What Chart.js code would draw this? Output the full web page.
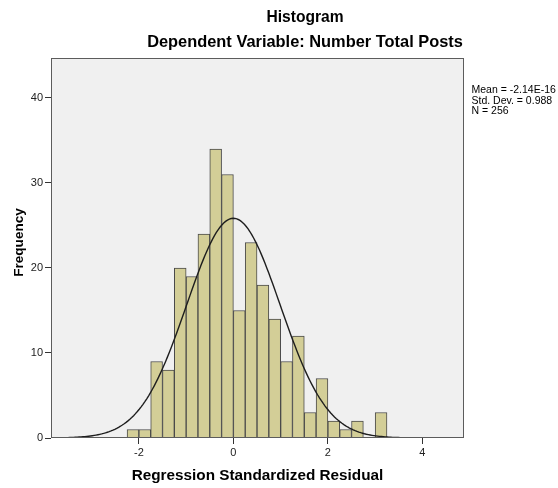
<!DOCTYPE html>
<html><head><meta charset="utf-8">
<script src="https://cdn.jsdelivr.net/npm/chart.js@4.4.0/dist/chart.umd.min.js"></script>
<style>html,body{margin:0;padding:0;background:#fff;}#wrap{position:relative;width:558px;height:488px;}</style>
</head><body><div id="wrap"><canvas id="c" width="558" height="488"></canvas></div>
<script>
// Histogram bins (centers) and frequencies
const binCenters = [-2.125,-1.875,-1.625,-1.375,-1.125,-0.875,-0.625,-0.375,-0.125,0.125,0.375,0.625,0.875,1.125,1.375,1.625,1.875,2.125,2.375,2.625,2.875,3.125];
const frequencies = [1,1,9,8,20,19,24,34,31,15,23,18,14,9,12,3,7,2,1,2,0,3];
const xTickValues = [-2,0,2,4];
const yTickValues = [0,10,20,30,40];
const titleText = 'Histogram';
const subtitleText = 'Dependent Variable: Number Total Posts';
const xTitleText = 'Regression Standardized Residual';
const yTitleText = 'Frequency';
const statLines = ['Mean = -2.14E-16','Std. Dev. = 0.988','N = 256'];
// Normal curve parameters (as stated in the chart)
const mean = -2.14e-16, stdDev = 0.988, nObs = 256, binWidth = 0.25;
const xMin = -3.86, xMax = 4.88, yMax = 44.7;

const barData = binCenters.map((x,i)=>({x:x, y:frequencies[i]}));
const curveData = [];
for (let k = 0; k <= 220; k++) {
  const x = xMin + (xMax - xMin) * k / 220;
  const z = (x - mean) / stdDev;
  curveData.push({x:x, y: nObs * binWidth / (stdDev * Math.sqrt(2*Math.PI)) * Math.exp(-0.5*z*z)});
}

const FONT = "'Liberation Sans', Arial, sans-serif";

const frame = {
  id:'frame',
  beforeDatasetsDraw(chart){
    const {ctx, chartArea:a} = chart;
    ctx.save(); ctx.fillStyle = '#f0f0f0';
    ctx.fillRect(a.left, a.top, a.right-a.left, a.bottom-a.top); ctx.restore();
  },
  afterDraw(chart){
    const {ctx, chartArea:a} = chart;
    ctx.save();
    ctx.strokeStyle = '#5c5c5c'; ctx.lineWidth = 1;
    ctx.strokeRect(Math.round(a.left)+0.5, Math.round(a.top)+0.5, Math.round(a.right-a.left)-1, Math.round(a.bottom-a.top)-1);
    ctx.fillStyle = '#000';
    ctx.textAlign = 'center'; ctx.textBaseline = 'alphabetic';
    ctx.font = "bold 15.6px " + FONT;
    ctx.fillText(titleText, 305, 21.5);
    ctx.font = "bold 16.4px " + FONT;
    ctx.fillText(subtitleText, 305, 46.5);
    ctx.textAlign = 'left';
    ctx.font = "10.5px " + FONT;
    statLines.forEach((t,i)=>ctx.fillText(t, 471.5, 93.3 + i*10.5));
    // y axis title
    ctx.translate(23, 242.5); ctx.rotate(-Math.PI/2);
    ctx.textAlign = 'center';
    ctx.font = "bold 13.6px " + FONT;
    ctx.fillText(yTitleText, 0, 0);
    ctx.restore();
  }
};

new Chart(document.getElementById('c'), {
  type:'bar',
  data:{datasets:[
    {type:'line', data:curveData, borderColor:'#1e1e1e', borderWidth:1.4, pointRadius:0, fill:false, tension:0, order:1},
    {type:'bar', data:barData, backgroundColor:'#d3ce97', borderColor:'#4a4a4a', borderWidth:1, barPercentage:1, categoryPercentage:1, order:2}
  ]},
  options:{
    responsive:false, animation:false, devicePixelRatio:1,
    layout:{padding:{top:58, right:94, bottom:0, left:0}},
    plugins:{legend:{display:false}, tooltip:{enabled:false}},
    scales:{
      x:{type:'linear', min:xMin, max:xMax, offset:false,
        afterFit:s=>{s.height=50;},
        afterBuildTicks:s=>{s.ticks = xTickValues.map(v=>({value:v}));},
        ticks:{font:{family:FONT,size:11}, color:'#222', padding:2, maxRotation:0, autoSkip:false},
        grid:{offset:false, drawOnChartArea:false, tickLength:6, color:'#333'},
        border:{display:false},
        title:{display:true, text:xTitleText, color:'#000', font:{family:FONT,size:15.3,weight:'bold'}, padding:{top:0,bottom:3}}
      },
      y:{type:'linear', min:0, max:yMax,
        afterFit:s=>{s.width=51;},
        afterBuildTicks:s=>{s.ticks = yTickValues.map(v=>({value:v}));},
        ticks:{font:{family:FONT,size:11}, color:'#222', padding:2},
        grid:{drawOnChartArea:false, tickLength:6, color:'#333'},
        border:{display:false},
        title:{display:false}
      }
    }
  },
  plugins:[frame]
});
</script></body></html>
